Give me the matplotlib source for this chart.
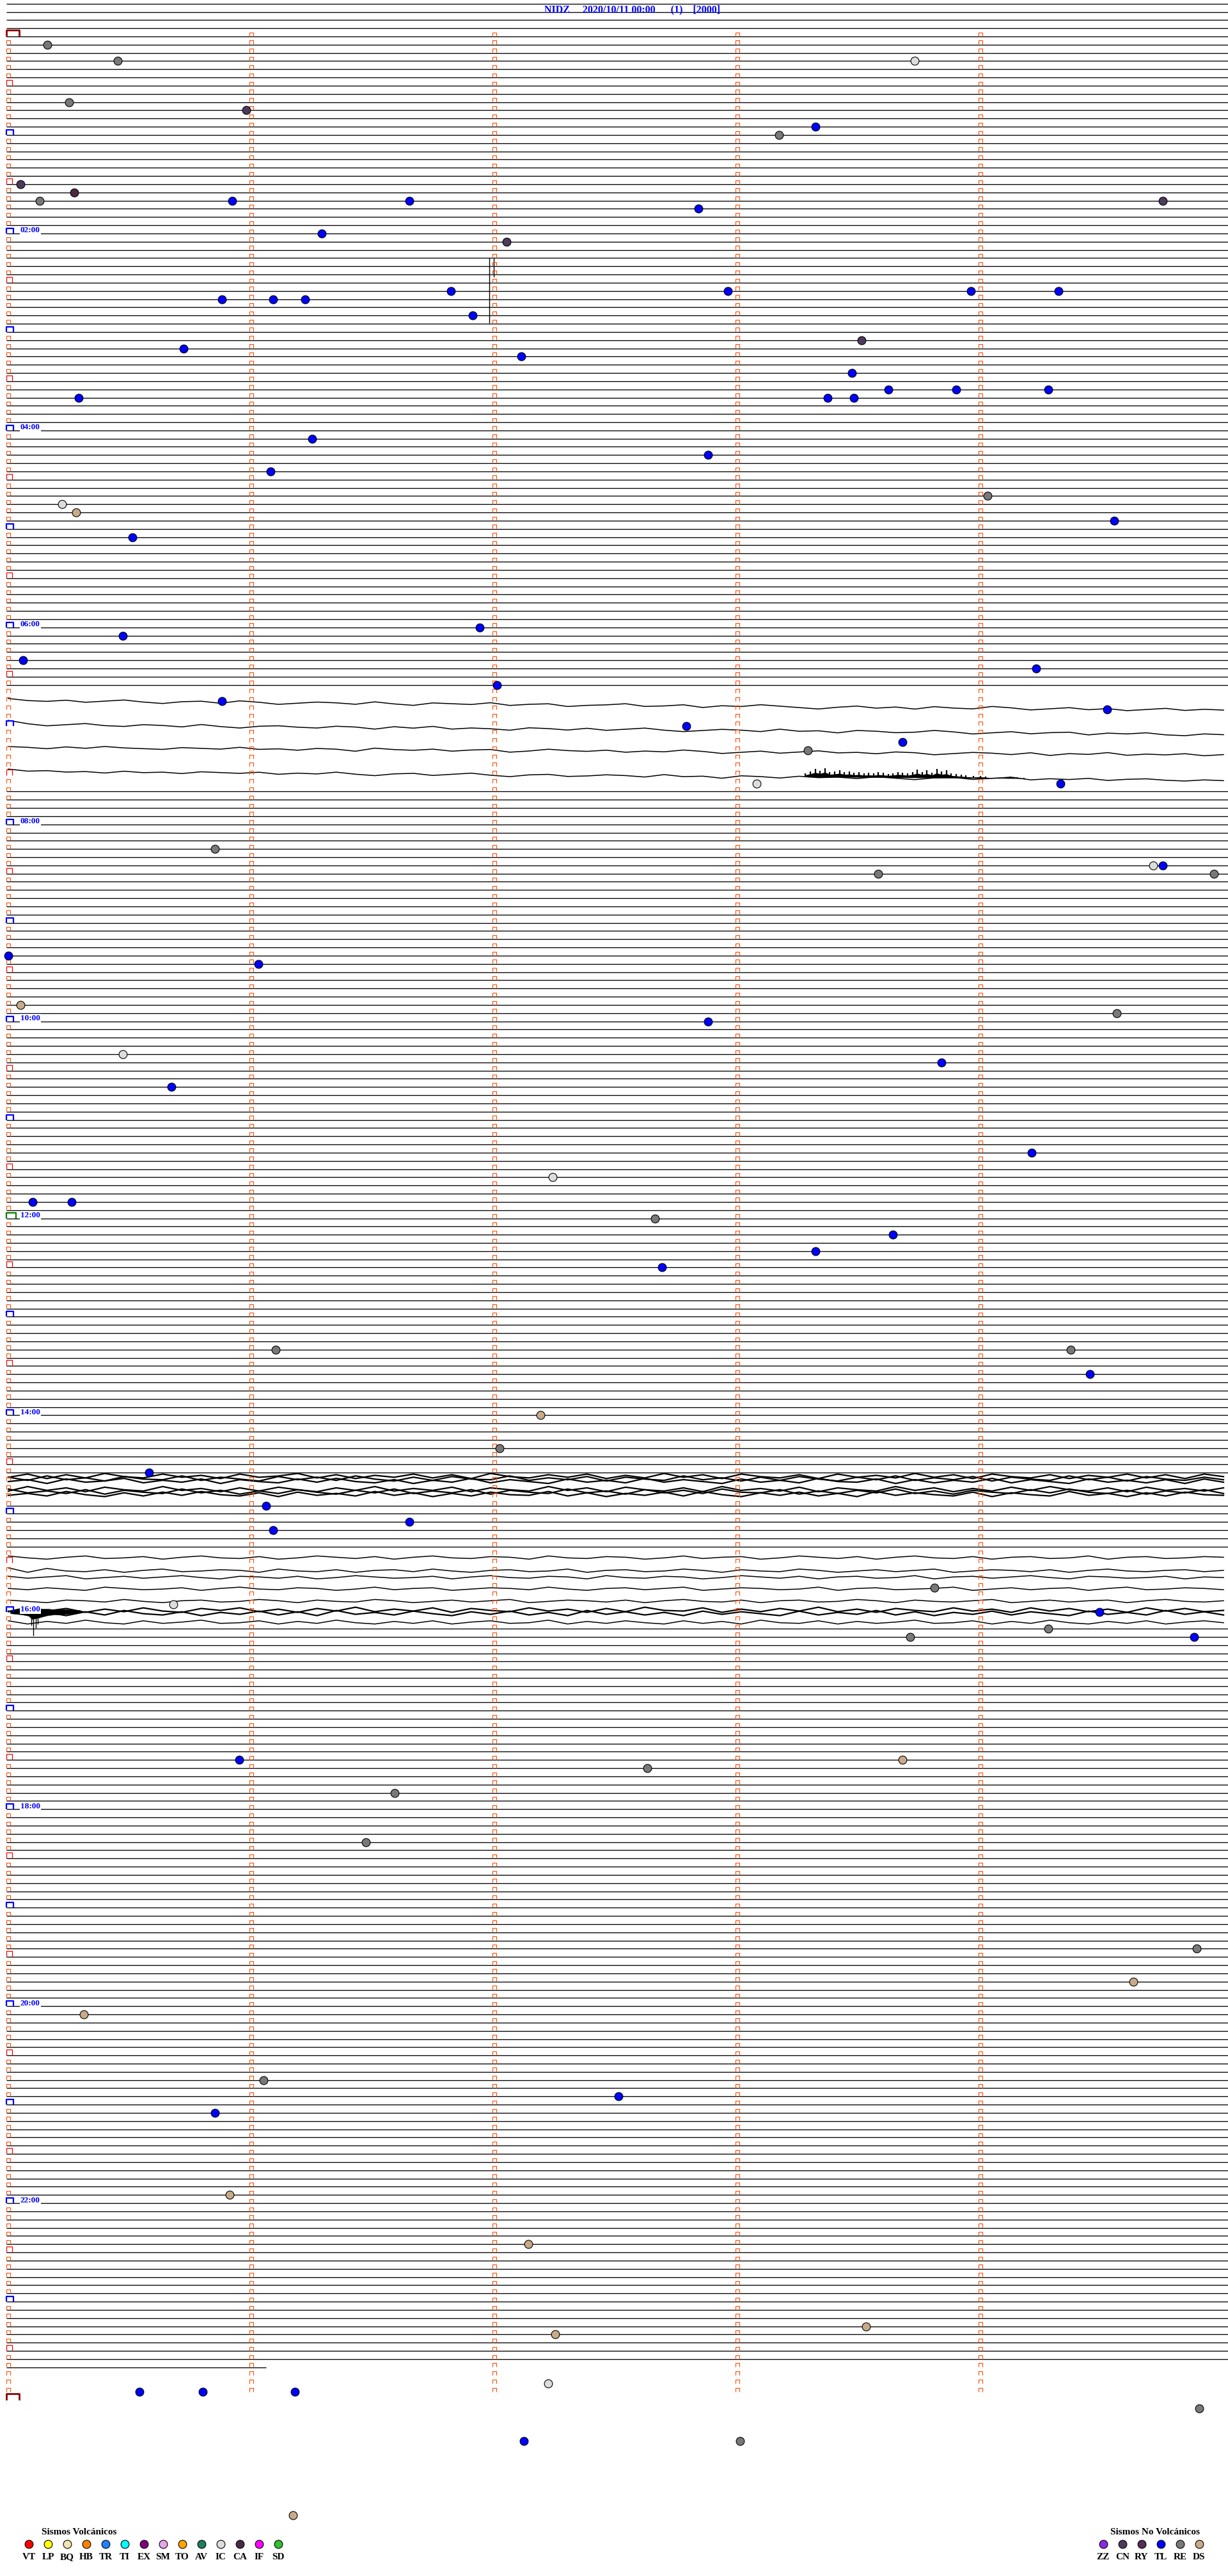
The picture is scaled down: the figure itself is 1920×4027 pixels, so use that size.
import numpy as np
import matplotlib
matplotlib.use("Agg")
import matplotlib.pyplot as plt
from matplotlib.collections import LineCollection

plt.rcParams['font.family'] = ['Liberation Serif', 'DejaVu Serif']

# ------------------------------------------------------------------ data
STATION_TITLE = "NIDZ     2020/10/11 00:00      (1)    [2000]"
MINUTES_PER_ROW = 5
ROWS_PER_DAY = 288
ROWS_BEFORE = 4
DATA_END_MIN = 1421.06          # last sample drawn (23:41)
MARK_LAST_ROW = 287
HOUR_LABEL_HOURS = [2, 4, 6, 8, 10, 12, 14, 16, 18, 20, 22]
HOUR_LABELS = ["02:00", "04:00", "06:00", "08:00", "10:00", "12:00",
               "14:00", "16:00", "18:00", "20:00", "22:00"]

# event times (minutes after 00:00) and their class
EVENT_MIN = [5.16, 15.45, 18.73, 40.25, 45.98, 58.32, 63.17, 90.05, 95.27, 100.13,
             100.92, 101.65, 104.75, 107.84, 121.29, 127.05, 160.88, 161.09, 161.22, 156.82,
             157.96, 158.96, 159.32, 171.91, 190.72, 188.51, 197.11, 208.47, 220.29, 223.37,
             223.48, 218.62, 218.90, 219.28, 246.25, 257.88, 266.08, 284.03, 285.22, 290.28,
             305.51, 299.55, 365.47, 361.94, 380.06, 389.23, 397.01, 405.88, 414.52, 422.79,
             433.68, 438.29, 458.08, 459.33, 495.85, 513.58, 509.71, 509.75, 514.96, 560.00,
             566.03, 590.05, 599.56, 602.88, 620.47, 640.67, 628.84, 684.21, 697.24, 710.10,
             710.26, 722.66, 733.64, 743.32, 752.69, 801.10, 804.37, 819.45, 842.19, 862.02,
             875.58, 896.06, 911.09, 906.65, 955.68, 948.81, 964.49, 974.28, 978.71, 979.88,
             1050.95, 1057.63, 1053.68, 1071.59, 1101.47, 1169.89, 1189.63, 1205.31, 1246.05, 1257.51,
             1265.85, 1315.91, 1347.14, 1402.25, 1398.53, 1432.22, 1435.54, 1435.80, 1436.18, 1449.90,
             1467.12, 1468.01, 1511.17]
EVENT_TYPE = ["RE", "RE", "IC", "RE", "CN", "TL", "RE", "CN", "CA", "RE",
              "TL", "TL", "CN", "TL", "TL", "CN", "TL", "TL", "TL", "TL",
              "TL", "TL", "TL", "TL", "TL", "CN", "TL", "TL", "TL", "TL",
              "TL", "TL", "TL", "TL", "TL", "TL", "TL", "RE", "IC", "DS",
              "TL", "TL", "TL", "TL", "TL", "TL", "TL", "TL", "TL", "TL",
              "TL", "RE", "IC", "TL", "RE", "RE", "IC", "TL", "RE", "TL",
              "TL", "DS", "RE", "TL", "IC", "TL", "TL", "TL", "IC", "TL",
              "TL", "RE", "TL", "TL", "TL", "RE", "RE", "TL", "DS", "RE",
              "TL", "TL", "TL", "TL", "IC", "RE", "TL", "RE", "RE", "TL",
              "TL", "RE", "DS", "RE", "RE", "RE", "DS", "DS", "RE", "TL",
              "TL", "DS", "DS", "DS", "DS", "IC", "TL", "TL", "TL", "RE",
              "TL", "RE", "DS"]

VOLC_CODES = ["VT", "LP", "BQ", "HB", "TR", "TI", "EX", "SM", "TO", "AV", "IC", "CA", "IF", "SD"]
VOLC_COLORS = ["#FF0000", "#FFFF00", "#F2E6B0", "#FF8000", "#2080FF", "#00FFFF", "#800080",
               "#E8A4E8", "#FFA500", "#1E7E5E", "#DCDCDC", "#4A2A42", "#FF00FF", "#30C030"]
NONVOLC_CODES = ["ZZ", "CN", "RY", "TL", "RE", "DS"]
NONVOLC_COLORS = ["#8A2BE2", "#4E3A5C", "#562E56", "#0000FF", "#787878", "#C8AA88"]

# rows whose trace is not a flat line
WAVY_ROWS = list(range(80, 92)) + [176, 177, 178] + list(range(185, 194))

# waveform traces: start row, end row (drift), sample offsets (pixels, + is down)
WAVE_A1 = [-3, 0, 1, -1, 2, 0, -2, 1, 3, 0, -1, 2, -2, 0, 3, 1, -1, 0, 2, -2, 1, 3, -1, 0, 1, -2, 2, 0, -1, 3, 1, 0,
           -2, 2, 1, -1, 3, 0, 1, -2, 0, 2, 4, 1, -1, 2, 0, 3, -1, 1, 2, -2, 0, 3, 1, -1, 2, 0, 3, 1, -1, 2, 0, 1]
WAVE_A2 = [-6, -1, 2, 0, -2, 1, 2, -1, 0, 2, -2, 1, 3, 0, -1, 1, 2, -1, 0, 3, -1, 1, -2, 2, 0, 1, 3, -1, 0, 2, -1, 2,
           0, -2, 1, 3, 1, -1, 0, 2, -2, 1, 0, 3, -1, 0, 2, 1, -2, 0, 3, 1, -1, 2, 0, -1, 3, 0, 1, -1, 2, 3, 0, 1]
WAVE_A3 = [-1, 0, 2, -1, 1, -2, 0, 1, 2, -1, 0, 1, -2, 1, 0, 2, -1, 0, 3, -2, 0, 1, -1, 2, 0, -1, 3, 1, -2, 0, 1, -1,
           2, 0, 1, -2, 0, 3, 1, -1, 2, 0, -2, 1, 0, 2, -1, 0, 3, 1, -1, 0, 2, -1, 3, 0, 1, -2, 2, 0, 1, -1, 2, 0]
WAVE_A4 = [-3, 0, -1, 1, 0, 2, -1, 1, 0, 2, -1, 0, 1, -1, 2, 0, 1, -2, 1, 3, 0, -1, 2, 0, -2, 1, 3, 0, -1, 2, 1, -1,
           0, 2, -2, 1, 0, 3, -1, 0, 2, -1, 1, 0, 2, -1, 1, 3, 0, -1, 2, 0, -2, 2, 0, 1, -1, 2, 0, -1, 1, 2, 0, 1]
WAVE_B1 = [2, -3, 4, -2, 3, -4, 1, 3, -3, 2, -1, 4, -3, 2, 0, -4, 3, -2, 4, -1, 2, -3, 3, -2, 4, -4, 1, 3, -2, 2, -3, 4,
           -1, 3, -4, 2, -2, 4, -3, 1, 3, -2, 4, -3, 2, -1, 3, -4, 2, -2, 4, -3, 1, 3, -2, 4, -1, 2, -3, 3, -2, 4, -3, 1]
WAVE_B2 = [-2, 3, -4, 2, -1, 4, -3, 1, 2, -4, 3, -2, 1, 4, -3, 2, -2, 3, -4, 1, 4, -2, 3, -3, 1, 2, -4, 3, -1, 2, -3, 4,
           -2, 1, 3, -4, 2, -1, 4, -2, 3, -3, 1, 4, -2, 2, -4, 3, -1, 2, -3, 4, -2, 1, 3, -4, 2, -2, 4, -3, 1, 3, -2, 2]
WAVE_B3 = [1, -2, 4, -3, 2, 0, -4, 3, -1, 2, -3, 4, -2, 1, 3, -3, 2, -4, 1, 3, -2, 4, -1, 2, -4, 3, -2, 1, 4, -3, 2, -1,
           3, -4, 2, -2, 1, 4, -3, 2, -1, 3, -4, 1, 2, -3, 4, -2, 3, -1, 2, -4, 3, -2, 1, 4, -3, 2, -1, 3, -2, 4, -3, 2]
WAVE_B4 = [3, -4, 2, -2, 4, -3, 1, 3, -4, 2, -1, 4, -2, 3, -3, 1, 4, -2, 2, -4, 3, -1, 2, -3, 4, -2, 1, 3, -4, 2, -2, 4,
           -3, 1, 3, -2, 4, -4, 2, -1, 3, -3, 4, -2, 1, 3, -4, 2, -2, 4, -1, 3, -3, 2, -4, 1, 3, -2, 4, -3, 2, -1, 3, -2]
WAVE_B5 = [-4, 2, -1, 3, -3, 4, -2, 1, 3, -4, 2, -2, 4, -1, 3, -3, 1, 4, -2, 2, -4, 3, -1, 2, -3, 4, -2, 1, 3, -4, 2, -1,
           4, -3, 2, -2, 3, -4, 1, 2, -3, 4, -1, 3, -2, 2, -4, 3, -1, 4, -2, 1, 3, -3, 2, -4, 1, 3, -2, 4, -1, 2, -3, 3]
WAVE_B6 = [2, -1, 3, -4, 1, 4, -2, 3, -3, 2, -4, 1, 3, -2, 4, -3, 2, -1, 3, -4, 2, -2, 4, -1, 3, -3, 1, 2, -4, 3, -2, 4,
           -1, 2, -3, 3, -4, 1, 4, -2, 2, -3, 3, -1, 4, -4, 2, -2, 1, 3, -3, 4, -2, 1, 3, -4, 2, -1, 4, -2, 3, -3, 1, 2]
WAVE_C1 = [-2, 1, 3, 0, -2, 2, 1, -1, 3, 0, -2, 1, 2, -1, 3, 1, -2, 0, 2, -1, 3, 0, -2, 1, 2, -1, 0, 3, -2, 1, 2, -1,
           0, 3, 1, -2, 2, 0, -1, 3, 1, -2, 0, 2, -1, 3, 0, -2, 1, 2, -1, 3, 0, -1, 2, 1, -2, 3, 0, -1, 2, 1, -1, 0]
WAVE_C2 = [-4, 3, -3, 1, 2, -1, 3, 0, -2, 2, 1, -1, 0, 3, -2, 1, 2, -1, 3, 0, -1, 2, -2, 1, 3, 0, -1, 2, 1, -2, 3, 0,
           -1, 2, 1, -2, 0, 3, -1, 1, 2, -2, 0, 3, 1, -1, 2, 0, -2, 3, 1, -1, 0, 2, -1, 3, 0, -2, 1, 2, 0, -1, 2, 0]
WAVE_C3 = [-1, 2, 0, -2, 3, 1, -1, 2, 0, -2, 1, 3, -1, 0, 2, -1, 3, 1, -2, 0, 2, 1, -1, 3, 0, -2, 1, 2, -1, 0, 3, -2,
           1, 2, -1, 0, 3, 1, -2, 0, 2, -1, 3, 0, -1, 2, 1, -2, 3, 0, -1, 2, 0, -2, 1, 3, -1, 0, 2, 1, -1, 3, 0, 1]
WAVE_C4 = [0, 2, -1, 1, 3, -2, 0, 2, 1, -1, 3, 0, -2, 1, 2, -1, 0, 3, 1, -2, 2, 0, -1, 3, 1, -1, 0, 2, -2, 1, 3, 0,
           -1, 2, 0, -2, 3, 1, -1, 0, 2, 1, -2, 3, 0, -1, 2, 1, 0, -2, 3, 1, -1, 2, 0, -1, 3, 0, -2, 2, 1, -1, 0, 2]
WAVE_C5 = [-1, 1, 3, -1, 0, 2, -2, 1, 3, 0, -1, 2, 1, -2, 0, 3, -1, 1, 2, -2, 0, 3, 1, -1, 2, 0, -2, 3, 1, -1, 0, 2,
           -1, 3, 0, -2, 1, 2, -1, 3, 0, -1, 2, 1, -2, 0, 3, -1, 1, 2, 0, -2, 3, 1, -1, 2, 0, -1, 3, 0, -2, 1, 2, 0]
WAVE_C6 = [3, -4, 2, -2, 4, -1, 3, -3, 2, 4, -2, 1, -3, 3, -1, 4, -2, 2, -4, 3, -1, 2, -3, 4, -2, 1, 3, -3, 2, -1, 4, -2,
           3, -4, 1, 2, -3, 4, -1, 3, -2, 2, -4, 3, -1, 4, -2, 1, 3, -3, 2, -1, 4, -3, 2, -2, 3, -1, 4, -3, 2, -2, 3, 1]
WAVE_C7 = [-3, 2, -1, 4, -2, 3, -4, 1, 3, -2, 4, -1, 2, -3, 3, -2, 4, -4, 2, -1, 3, -3, 1, 4, -2, 2, -3, 3, -1, 4, -4, 2,
           -2, 3, -1, 4, -3, 2, -2, 1, 4, -3, 3, -1, 2, -4, 3, -2, 4, -1, 2, -3, 3, -2, 1, 4, -3, 2, -1, 3, -4, 2, -2, 3]
WAVE_C8 = [-2, 3, -1, 2, -3, 1, 3, -2, 2, 0, -3, 2, 1, -2, 3, -1, 2, -3, 1, 3, -1, 2, -2, 3, 0, -2, 2, 1, -3, 3, -1, 2,
           -2, 1, 3, -2, 2, -1, 3, -3, 1, 2, -2, 3, -1, 2, 0, -3, 2, 1, -2, 3, -1, 2, -3, 1, 3, -1, 2, -2, 3, 0, -2, 1]

TRACE_ROW_START = [80.9, 83.8, 86.6, 89.5, 175.4, 175.7, 176.0, 177.0, 177.3, 177.6,
                   185.3, 186.9, 187.7, 189.1, 190.6, 191.7, 192.1, 193.2]
TRACE_ROW_END = [82.0, 85.0, 87.5, 90.6, 175.4, 175.7, 176.0, 177.0, 177.3, 177.6,
                 185.3, 186.9, 187.7, 189.1, 190.6, 191.7, 192.1, 193.2]
TRACE_WAVES = [WAVE_A1, WAVE_A2, WAVE_A3, WAVE_A4, WAVE_B1, WAVE_B2, WAVE_B3, WAVE_B4, WAVE_B5,
               WAVE_B6, WAVE_C1, WAVE_C2, WAVE_C3, WAVE_C4, WAVE_C5, WAVE_C6, WAVE_C7, WAVE_C8]

# noise burst on the 07:25 trace (minutes, height in pixels above trace)
BURST_MIN = [3.28, 3.30, 3.32, 3.34, 3.36, 3.38, 3.40, 3.42, 3.44, 3.46, 3.48, 3.50, 3.52, 3.54,
             3.56, 3.58, 3.60, 3.62, 3.64, 3.66, 3.68, 3.70, 3.72, 3.74, 3.76, 3.78, 3.80, 3.82,
             3.84, 3.86, 3.88, 3.90, 3.92, 3.94, 3.97, 4.00, 4.02, 4.05, 4.08, 4.12, 4.15, 4.18]
BURST_PX = [6, 9, 13, 10, 14, 8, 9, 11, 8, 9, 7, 8, 6, 7, 6, 8, 7, 6, 7, 9, 8, 7, 9, 13,
            9, 12, 8, 14, 10, 12, 7, 6, 5, 4, 3, 4, 3, 1, 1, 3, 2, 1]
BURST_ROW_START = 89.5
BURST_ROW_END = 90.6

# glitch (vertical stroke) at 02:15
GLITCH_ROW = 27
GLITCH_MIN = [1.979, 1.997]
GLITCH_ROWS = [7.9, 2.3]

# transient at the start of the 16:00 row (pixels above / below the trace)
T16_MIN = [0.008, 0.032, 0.058, 0.084, 0.097, 0.111, 0.124, 0.142, 0.163, 0.189, 0.216, 0.242, 0.268, 0.295]
T16_UP_PX = [2, 3, 4, 5, 5, 5, 5, 4, 4, 3, 3, 3, 2, 2]
T16_DN_PX = [3, 4, 5, 7, 12, 11, 10, 8, 6, 5, 5, 4, 3, 2]
T16_ROW = 191.9
T16_SPIKE_MIN = [0.095, 0.103, 0.112, 0.122]
T16_SPIKE_PX = [22, 38, 26, 20]

# ------------------------------------------------------------------ geometry helpers
W, H, DPI = 1920, 4027, 100
X0_PX, PX_PER_MIN = 13.0, 380.0
Y0_PX, PX_PER_ROW = 57.0, 12.83


def mx(px):
    return (px - X0_PX) / PX_PER_MIN


def ry(py):
    return (py - Y0_PX) / PX_PER_ROW


fig = plt.figure(figsize=(W / DPI, H / DPI), dpi=DPI)
ax = fig.add_axes([0, 0, 1, 1])
ax.set_xlim(mx(0), mx(W))
ax.set_ylim(ry(H), ry(0))
ax.axis("off")

# ------------------------------------------------------------------ flat rows
segs = []
last_row = int(DATA_END_MIN // MINUTES_PER_ROW)
for r in range(-ROWS_BEFORE, last_row + 1):
    if r in WAVY_ROWS:
        continue
    xe = MINUTES_PER_ROW + 0.1
    if r == last_row:
        xe = DATA_END_MIN - r * MINUTES_PER_ROW
    segs.append([(mx(9.5), r), (xe, r)])
ax.add_collection(LineCollection(segs, colors="black", linewidths=0.95, zorder=2))

# ------------------------------------------------------------------ waveform traces
for r0, r1, wave in zip(TRACE_ROW_START, TRACE_ROW_END, TRACE_WAVES):
    n = len(wave)
    xs = np.linspace(0, MINUTES_PER_ROW, n)
    base = r0 + (r1 - r0) * xs / MINUTES_PER_ROW
    ys = base + np.asarray(wave) / PX_PER_ROW
    lw = 1.6 if 175 <= r0 <= 178 or 191.5 <= r0 <= 192.5 else 1.1
    ax.plot(xs, ys, color="black", lw=lw, zorder=2, solid_joinstyle="miter")

bm = np.asarray(BURST_MIN)
bbase = BURST_ROW_START + (BURST_ROW_END - BURST_ROW_START) * bm / MINUTES_PER_ROW
btop = bbase - np.asarray(BURST_PX) / PX_PER_ROW
ax.vlines(bm, bbase, btop, color="black", lw=1.6, zorder=2)
ax.fill_between(bm, bbase, bbase - (bbase - btop) * 0.55, color="black", lw=0, zorder=2)

for m, d in zip(GLITCH_MIN, GLITCH_ROWS):
    ax.vlines(m, GLITCH_ROW, GLITCH_ROW + d, color="black", lw=1.0, zorder=2)

tm = np.asarray(T16_MIN)
ax.fill_between(tm, T16_ROW - np.asarray(T16_UP_PX) / PX_PER_ROW,
                T16_ROW + np.asarray(T16_DN_PX) / PX_PER_ROW, color="black", lw=0.4, zorder=2)
ax.vlines(T16_SPIKE_MIN, T16_ROW, T16_ROW + np.asarray(T16_SPIKE_PX) / PX_PER_ROW,
          color="black", lw=1.0, zorder=2)

# ------------------------------------------------------------------ minute markers
MARK_COLOR = "#FF4A00"


def bracket(xc, r, wpx, hpx, left=None):
    xl = mx(left) if left is not None else xc - wpx / 2 / PX_PER_MIN
    xr = xl + wpx / PX_PER_MIN
    yt = r - hpx / PX_PER_ROW
    return [(xl, r), (xl, yt), (xr, yt), (xr, r)]


small, half, hour_b, green_b, day_b = [], [], [], [], []
for r in range(0, MARK_LAST_ROW + 1):
    for m in range(1, MINUTES_PER_ROW):
        small.append(bracket(m, r - 0.03, 5.3, 6))
    if r == 0:
        continue
    if r % 12 == 0:
        if r == 144:
            green_b.append(bracket(0, r, 16, 9, left=9.5))
        else:
            hour_b.append(bracket(0, r, 11.5, 8, left=9.5))
    elif r % 6 == 0:
        half.append(bracket(0, r, 8.7, 9, left=10.2))
    else:
        small.append(bracket(0, r - 0.03, 5.3, 6))
for r in (0, ROWS_PER_DAY):
    day_b.append(bracket(0, r, 20.5, 10, left=9.8))

ax.add_collection(LineCollection(small, colors=MARK_COLOR, linewidths=0.8, zorder=3))
ax.add_collection(LineCollection(half, colors="#FF0000", linewidths=0.9, zorder=3))
ax.add_collection(LineCollection(hour_b, colors="#0000FF", linewidths=1.6, zorder=3))
ax.add_collection(LineCollection(green_b, colors="#008000", linewidths=1.6, zorder=3))
ax.add_collection(LineCollection(day_b, colors="#8B0000", linewidths=2.0, zorder=3))

# hour labels
for h, lab in zip(HOUR_LABEL_HOURS, HOUR_LABELS):
    r = h * 12
    ax.text(mx(32), r - 1.5 / PX_PER_ROW, lab, color="#0000FF", fontsize=9.5, fontweight="bold",
            ha="left", va="baseline", zorder=4,
            bbox=dict(boxstyle="square,pad=0.05", fc="white", ec="none"))

# title
ax.text(mx(989), ry(19), STATION_TITLE, color="#0000FF", fontsize=11.5, fontweight="bold",
        ha="center", va="baseline", zorder=4)

# ------------------------------------------------------------------ events
color_of = dict(zip(VOLC_CODES + NONVOLC_CODES, VOLC_COLORS + NONVOLC_COLORS))
ev_min = np.asarray(EVENT_MIN)
ev_row = np.floor(ev_min / MINUTES_PER_ROW)
ev_x = ev_min - ev_row * MINUTES_PER_ROW
for code in dict.fromkeys(EVENT_TYPE):
    sel = np.array([t == code for t in EVENT_TYPE])
    ax.plot(ev_x[sel], ev_row[sel], "o", ms=9.2, mfc=color_of[code], mec="black", mew=0.8, zorder=5)

# ------------------------------------------------------------------ legends
ax.text(mx(124), ry(3962), "Sismos Volcánicos", fontsize=11, fontweight="bold",
        ha="center", va="baseline", color="black")
for i, (c, col) in enumerate(zip(VOLC_CODES, VOLC_COLORS)):
    xp = 45 + 30 * i
    ax.plot(mx(xp), ry(3977), "o", ms=9.2, mfc=col, mec="black", mew=0.8, zorder=5)
    ax.text(mx(xp), ry(4001), c, fontsize=11, fontweight="bold", ha="center", va="baseline")

ax.text(mx(1806), ry(3962), "Sismos No Volcánicos", fontsize=11, fontweight="bold",
        ha="center", va="baseline", color="black")
for i, (c, col) in enumerate(zip(NONVOLC_CODES, NONVOLC_COLORS)):
    xp = 1725 + 30 * i
    ax.plot(mx(xp), ry(3977), "o", ms=9.2, mfc=col, mec="black", mew=0.8, zorder=5)
    ax.text(mx(xp), ry(4001), c, fontsize=11, fontweight="bold", ha="center", va="baseline")

fig.savefig("out.png", dpi=DPI, facecolor="white")
